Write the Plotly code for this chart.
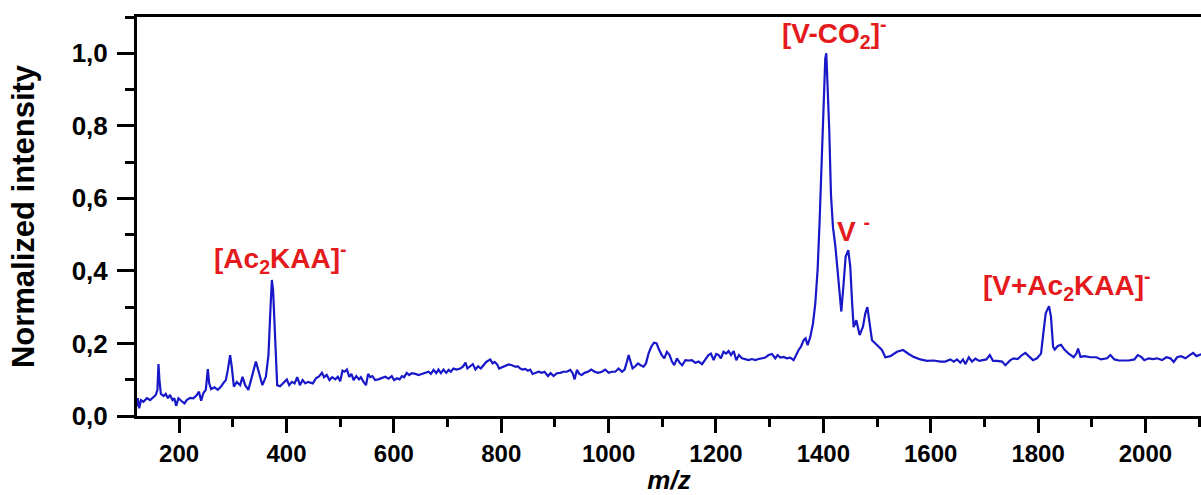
import plotly.graph_objects as go

mz = [120, 123, 125.5, 129, 133.5, 140, 146, 152, 156.5, 159.6,
      161.5, 163.3, 166, 171, 175, 179, 183, 187.6, 191, 194.4,
      198.7, 203.7, 210, 214, 220.5, 226.7, 233, 237, 241, 245,
      249.7, 253.4, 256, 259.6, 265.8, 272, 278, 283, 287, 290.7,
      295, 298, 302, 307.4, 313.6, 318, 323, 329, 335, 343,
      349, 355, 361.5, 366.4, 370, 372.7, 375, 377.6, 380, 382.6,
      388, 394, 400.6, 405, 410, 415, 420, 425, 430, 435, 440,
      449, 455, 461, 466, 470, 475, 480, 485, 490.7, 495.7,
      500, 504.3, 508, 512.5, 517, 521, 525, 530, 535, 538.5,
      543.5, 548, 552, 556, 560, 565, 571, 577.6, 584, 590,
      596, 600.6, 605.6, 610.6, 615, 619, 624, 628.6, 633.5, 640,
      646, 652, 658, 664.6, 669, 674, 679, 683, 687.6, 692.5,
      697.5, 702, 706, 711, 717, 723.6, 728.6, 733.5, 737, 742,
      747, 752, 757, 762, 767, 772,
      779.5, 784, 787.6, 792, 796, 801, 807, 813.7, 820, 826,
      831, 835.4, 839.8, 844.7, 849.7, 854, 858.4, 863.4, 869.6, 875.8,
      880.8, 887, 892, 897.5, 903.7, 910, 916, 922, 928.6, 933,
      936.7, 941, 945.4, 950, 955, 961.5, 967.7, 974, 980, 987.6,
      993.8, 1000, 1006, 1012.4, 1018.6, 1025, 1029.8, 1034, 1037.3, 1041,
      1044.7, 1049.7, 1054.7, 1059.6, 1065, 1069.6, 1074.5, 1079.5, 1084.5, 1089.5,
      1093,
      1099, 1103.7, 1108.6, 1113.6, 1118, 1122.3, 1127.3, 1132.2, 1137, 1143,
      1149, 1155, 1161.4, 1167.6, 1174, 1180, 1186, 1190.6, 1195.6, 1200.5,
      1205, 1209.2, 1214, 1219, 1223.5, 1228, 1233, 1237.8, 1242.8, 1248.4,
      1254.6, 1260.8, 1267, 1273.2, 1279.4, 1285.6, 1291.8, 1298, 1304.3, 1310.5,
      1314.8, 1319.8, 1326, 1332, 1338.4, 1344.6, 1349.6, 1354, 1358.3, 1363.3,
      1367, 1370.7, 1375.7, 1380.7, 1385, 1389.4, 1393, 1396.8, 1400.5, 1403.6,
      1405.5, 1408, 1411, 1414.2, 1418, 1422.3, 1426.6, 1430.4, 1433.5,
      1437.8, 1441.5, 1446.5, 1450.2, 1453.3, 1456.4, 1461.4, 1467.6, 1473.8, 1478.2,
      1482, 1486.3, 1490.6, 1497, 1503, 1509.2, 1515.4, 1524.8, 1537.2, 1548.4,
      1559, 1568.2, 1580.7, 1593, 1605.5, 1618, 1627.2, 1636.6, 1643, 1649,
      1655.2, 1660.2, 1664.5, 1671, 1677, 1683.2, 1690.6, 1697.4, 1703.6, 1710,
      1716, 1723.5, 1733, 1739,
      1748.4, 1754.6, 1762, 1770, 1776.4, 1782.6, 1790.6, 1798, 1805.5, 1810.5,
      1814.2, 1820.4, 1824, 1828, 1831, 1836.6, 1842.8, 1849, 1857, 1866.4,
      1871.4, 1874.5, 1879, 1886.3, 1897.5, 1908.6, 1917.3, 1928.5, 1934.7, 1942.2,
      1950.3, 1959.6, 1969, 1979.5, 1985.7, 1992, 1998, 2006, 2014, 2021.7,
      2031, 2039, 2046.5, 2052.7, 2059, 2066.4, 2074.5, 2082.5, 2088.8, 2095,
      2101.2, 2104]

intensity = [0.026, 0.049, 0.021, 0.044, 0.039, 0.049, 0.044, 0.053, 0.058, 0.072,
             0.143, 0.099, 0.061, 0.055, 0.061, 0.049, 0.058, 0.044, 0.049, 0.028,
             0.049, 0.042, 0.035, 0.044, 0.050, 0.049, 0.058, 0.067, 0.042, 0.063,
             0.072, 0.129, 0.090, 0.074, 0.079, 0.072, 0.081, 0.092, 0.099, 0.127,
             0.168, 0.136, 0.081, 0.094, 0.085, 0.108, 0.085, 0.072, 0.108, 0.150,
             0.118, 0.085, 0.108, 0.168, 0.292, 0.375, 0.347, 0.265, 0.145, 0.085,
             0.082, 0.090, 0.101, 0.085, 0.094, 0.090, 0.107, 0.085, 0.099, 0.090, 0.094,
             0.090, 0.104, 0.110, 0.119, 0.107, 0.113, 0.099, 0.107, 0.101, 0.108,
             0.096, 0.125, 0.122, 0.128, 0.108, 0.116, 0.099, 0.110, 0.101, 0.107,
             0.094, 0.085, 0.116, 0.107, 0.110, 0.099, 0.101, 0.104, 0.108, 0.103,
             0.110, 0.099, 0.104, 0.101, 0.110, 0.107, 0.119, 0.113, 0.118, 0.116,
             0.113, 0.116, 0.118, 0.122, 0.116, 0.127, 0.118, 0.128, 0.118, 0.128,
             0.119, 0.127, 0.122, 0.131, 0.128, 0.131, 0.136, 0.147, 0.131, 0.137,
             0.143, 0.128, 0.137, 0.131, 0.140, 0.149,
             0.156, 0.145, 0.149, 0.143, 0.131, 0.134, 0.137, 0.142, 0.140, 0.136,
             0.137, 0.131, 0.128, 0.130, 0.125, 0.128, 0.116, 0.119, 0.122, 0.119,
             0.122, 0.110, 0.118, 0.110, 0.118, 0.119, 0.122, 0.122, 0.127, 0.118,
             0.101, 0.127, 0.116, 0.113, 0.119, 0.122, 0.128, 0.122, 0.119, 0.122,
             0.128, 0.119, 0.122, 0.122, 0.131, 0.122, 0.128, 0.149, 0.168, 0.149,
             0.131, 0.137, 0.145, 0.140, 0.136, 0.145, 0.173, 0.191, 0.202, 0.200,
             0.186,
             0.168, 0.159, 0.177, 0.168, 0.150, 0.140, 0.159, 0.147, 0.140, 0.154,
             0.153, 0.154, 0.147, 0.150, 0.143, 0.154, 0.168, 0.172, 0.154, 0.171,
             0.168, 0.159, 0.177, 0.172, 0.179, 0.168, 0.179, 0.154, 0.168, 0.159,
             0.157, 0.154, 0.157, 0.154, 0.157, 0.159, 0.161, 0.168, 0.171, 0.159,
             0.168, 0.161, 0.163, 0.159, 0.161, 0.154, 0.171, 0.182, 0.191, 0.209,
             0.214, 0.195, 0.218, 0.255, 0.310, 0.405, 0.535, 0.700, 0.860, 0.985,
             1.000, 0.920, 0.790, 0.610, 0.520, 0.470, 0.405, 0.335, 0.288,
             0.366, 0.439, 0.457, 0.411, 0.320, 0.245, 0.264, 0.223, 0.246, 0.283,
             0.300, 0.250, 0.209, 0.200, 0.191, 0.182, 0.162, 0.165, 0.177, 0.182,
             0.171, 0.163, 0.156, 0.152, 0.153, 0.150, 0.150, 0.156, 0.150, 0.156,
             0.147, 0.156, 0.143, 0.162, 0.150, 0.158, 0.152, 0.153, 0.156, 0.168,
             0.152, 0.152, 0.150, 0.140,
             0.154, 0.159, 0.157, 0.168, 0.174, 0.165, 0.154, 0.159, 0.172, 0.237,
             0.283, 0.303, 0.274, 0.191, 0.183, 0.193, 0.196, 0.183, 0.172, 0.162,
             0.172, 0.186, 0.163, 0.165, 0.162, 0.162, 0.156, 0.159, 0.168, 0.156,
             0.153, 0.153, 0.153, 0.156, 0.168, 0.163, 0.154, 0.159, 0.157, 0.159,
             0.154, 0.162, 0.159, 0.149, 0.162, 0.165, 0.159, 0.168, 0.174, 0.165,
             0.168, 0.170]

assert len(mz) == len(intensity), (len(mz), len(intensity))

x_tickvals = [200, 400, 600, 800, 1000, 1200, 1400, 1600, 1800, 2000]
x_ticktext = ["200", "400", "600", "800", "1000", "1200", "1400", "1600", "1800", "2000"]
y_tickvals = [0.0, 0.2, 0.4, 0.6, 0.8, 1.0]
y_ticktext = ["0,0", "0,2", "0,4", "0,6", "0,8", "1,0"]

labels = ["[Ac<sub>2</sub>KAA]<sup>-</sup>", "[V-CO<sub>2</sub>]<sup>-</sup>",
          "V <sup>-</sup>", "[V+Ac<sub>2</sub>KAA]<sup>-</sup>"]
label_x = [389, 1420, 1457, 1853]
label_y = [0.435, 1.055, 0.515, 0.36]

FONT = "Liberation Sans, Arial, sans-serif"
RED = "#e41a1c"

fig = go.Figure()
fig.add_trace(go.Scatter(x=mz, y=intensity, mode="lines",
                         line=dict(color="#1818c8", width=2.2), showlegend=False))

for t, x, y in zip(labels, label_x, label_y):
    fig.add_annotation(x=x, y=y, xref="x", yref="y", text="<b>" + t + "</b>", showarrow=False,
                       xanchor="center", yanchor="middle",
                       font=dict(family=FONT, size=28, color=RED))

fig.update_layout(
    width=1201, height=495,
    margin=dict(l=137, r=0, t=17, b=79),
    paper_bgcolor="white", plot_bgcolor="white",
    font=dict(family=FONT, color="black"),
)
fig.update_xaxes(
    range=[121.5, 2103.5], showgrid=False, zeroline=False,
    showline=True, linecolor="black", linewidth=3, mirror=True,
    ticks="outside", ticklen=14, tickwidth=3, tickcolor="black",
    tickmode="array", tickvals=x_tickvals, ticktext=["<b>" + t + "</b>" for t in x_ticktext],
    tickfont=dict(family=FONT, size=24),
    minor=dict(ticks="outside", ticklen=8, tickwidth=3, tickcolor="black",
               dtick=100, tick0=0, showgrid=False),
    title=dict(text="<b><i>m/z</i></b>", font=dict(family=FONT, size=26), standoff=0),
)
fig.update_yaxes(
    range=[0, 1.1], showgrid=False, zeroline=False,
    showline=True, linecolor="black", linewidth=3, mirror=False,
    ticks="outside", ticklen=17, tickwidth=3, tickcolor="black",
    tickmode="array", tickvals=y_tickvals, ticktext=["<b>" + t + "</b>" for t in y_ticktext],
    tickfont=dict(family=FONT, size=26),
    ticklabelstandoff=4,
    minor=dict(ticks="outside", ticklen=9, tickwidth=3, tickcolor="black",
               dtick=0.1, tick0=0, showgrid=False),
    title=dict(text="<b>Normalized intensity</b>", font=dict(family=FONT, size=31), standoff=28),
)

fig.write_html("out.html")
